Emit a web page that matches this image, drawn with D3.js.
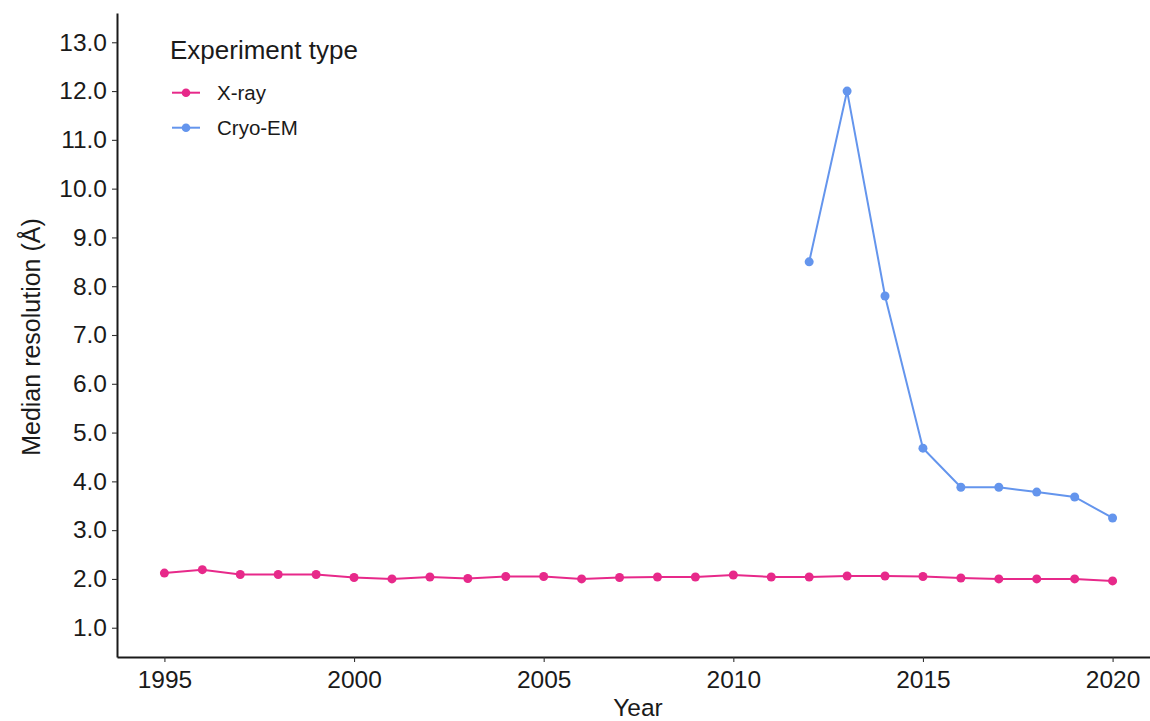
<!DOCTYPE html>
<html>
<head>
<meta charset="utf-8">
<script src="https://cdn.jsdelivr.net/npm/d3@7"></script>
<style>
  html, body { margin: 0; padding: 0; background: #fff; }
  svg { display: block; font-family: "Liberation Sans", Arial, sans-serif; }
</style>
</head>
<body>
<svg id="chart" width="1150" height="721"></svg>
<script>
// Median resolution of deposited structures per year, by experiment type
const years = d3.range(1995, 2021);
const xrayValues = [2.12, 2.19, 2.09, 2.09, 2.09, 2.03, 2.00, 2.04, 2.01, 2.05,
                    2.05, 2.00, 2.03, 2.04, 2.04, 2.08, 2.04, 2.04, 2.06, 2.06,
                    2.05, 2.02, 2.00, 2.00, 2.00, 1.96];
const cryoYears = [2012, 2013, 2014, 2015, 2016, 2017, 2018, 2019, 2020];
const cryoValues = [8.5, 12.0, 7.8, 4.68, 3.88, 3.88, 3.78, 3.68, 3.25];
const xTicks = [1995, 2000, 2005, 2010, 2015, 2020];
const yTicks = [1, 2, 3, 4, 5, 6, 7, 8, 9, 10, 11, 12, 13];
const seriesNames = ["X-ray", "Cryo-EM"];
const seriesColors = ["#E7298A", "#6495ED"];

const series = [
  { name: seriesNames[0], color: seriesColors[0], pts: years.map((y, i) => [y, xrayValues[i]]) },
  { name: seriesNames[1], color: seriesColors[1], pts: cryoYears.map((y, i) => [y, cryoValues[i]]) }
];

const svg = d3.select("#chart");
const plotLeft = 117, plotRight = 1160, plotTop = 13, plotBottom = 657;
const x = d3.scaleLinear().domain([1993.75, 2021.25]).range([plotLeft, plotRight]);
const y = d3.scaleLinear().domain([0.4, 13.6]).range([plotBottom, plotTop]);

const ink = "#1a1a1a";

// axes
const xAxis = svg.append("g").attr("transform", `translate(0,${plotBottom})`)
  .call(d3.axisBottom(x).tickValues(xTicks).tickFormat(d3.format("d"))
    .tickSizeInner(5).tickSizeOuter(0).tickPadding(9));
const yAxis = svg.append("g").attr("transform", `translate(${plotLeft},0)`)
  .call(d3.axisLeft(y).tickValues(yTicks).tickFormat(d3.format(".1f"))
    .tickSizeInner(5).tickSizeOuter(0).tickPadding(5));
[xAxis, yAxis].forEach(g => {
  g.select(".domain").attr("stroke", ink).attr("stroke-width", 2);
  g.selectAll(".tick line").attr("stroke", "#333").attr("stroke-width", 1.1);
  g.selectAll(".tick text").attr("fill", ink).attr("font-size", 24.5)
    .attr("font-family", "'Liberation Sans', Arial, sans-serif");
});

// axis titles
svg.append("text").attr("x", 638).attr("y", 716)
  .attr("text-anchor", "middle").attr("font-size", 24.5).attr("fill", ink).text("Year");
svg.append("text").attr("transform", `translate(40,337) rotate(-90)`)
  .attr("text-anchor", "middle").attr("font-size", 25).attr("fill", ink)
  .text("Median resolution (Å)");

// lines and points
const line = d3.line().x(d => x(d[0])).y(d => y(d[1]));
series.forEach(s => {
  svg.append("path").datum(s.pts).attr("d", line)
    .attr("fill", "none").attr("stroke", s.color).attr("stroke-width", 2);
  svg.append("g").selectAll("circle").data(s.pts).join("circle")
    .attr("cx", d => x(d[0])).attr("cy", d => y(d[1])).attr("r", 4.5)
    .attr("fill", s.color);
});

// legend
const legend = svg.append("g");
legend.append("text").attr("x", 170).attr("y", 59).attr("font-size", 26)
  .attr("fill", ink).text("Experiment type");
series.forEach((s, i) => {
  const ly = 92.7 + i * 35;
  legend.append("line").attr("x1", 172).attr("x2", 200).attr("y1", ly).attr("y2", ly)
    .attr("stroke", s.color).attr("stroke-width", 2);
  legend.append("circle").attr("cx", 186).attr("cy", ly).attr("r", 4.3).attr("fill", s.color);
  legend.append("text").attr("x", 217).attr("y", ly).attr("dy", "0.36em")
    .attr("font-size", 20.5).attr("fill", ink).text(s.name);
});
</script>
</body>
</html>
